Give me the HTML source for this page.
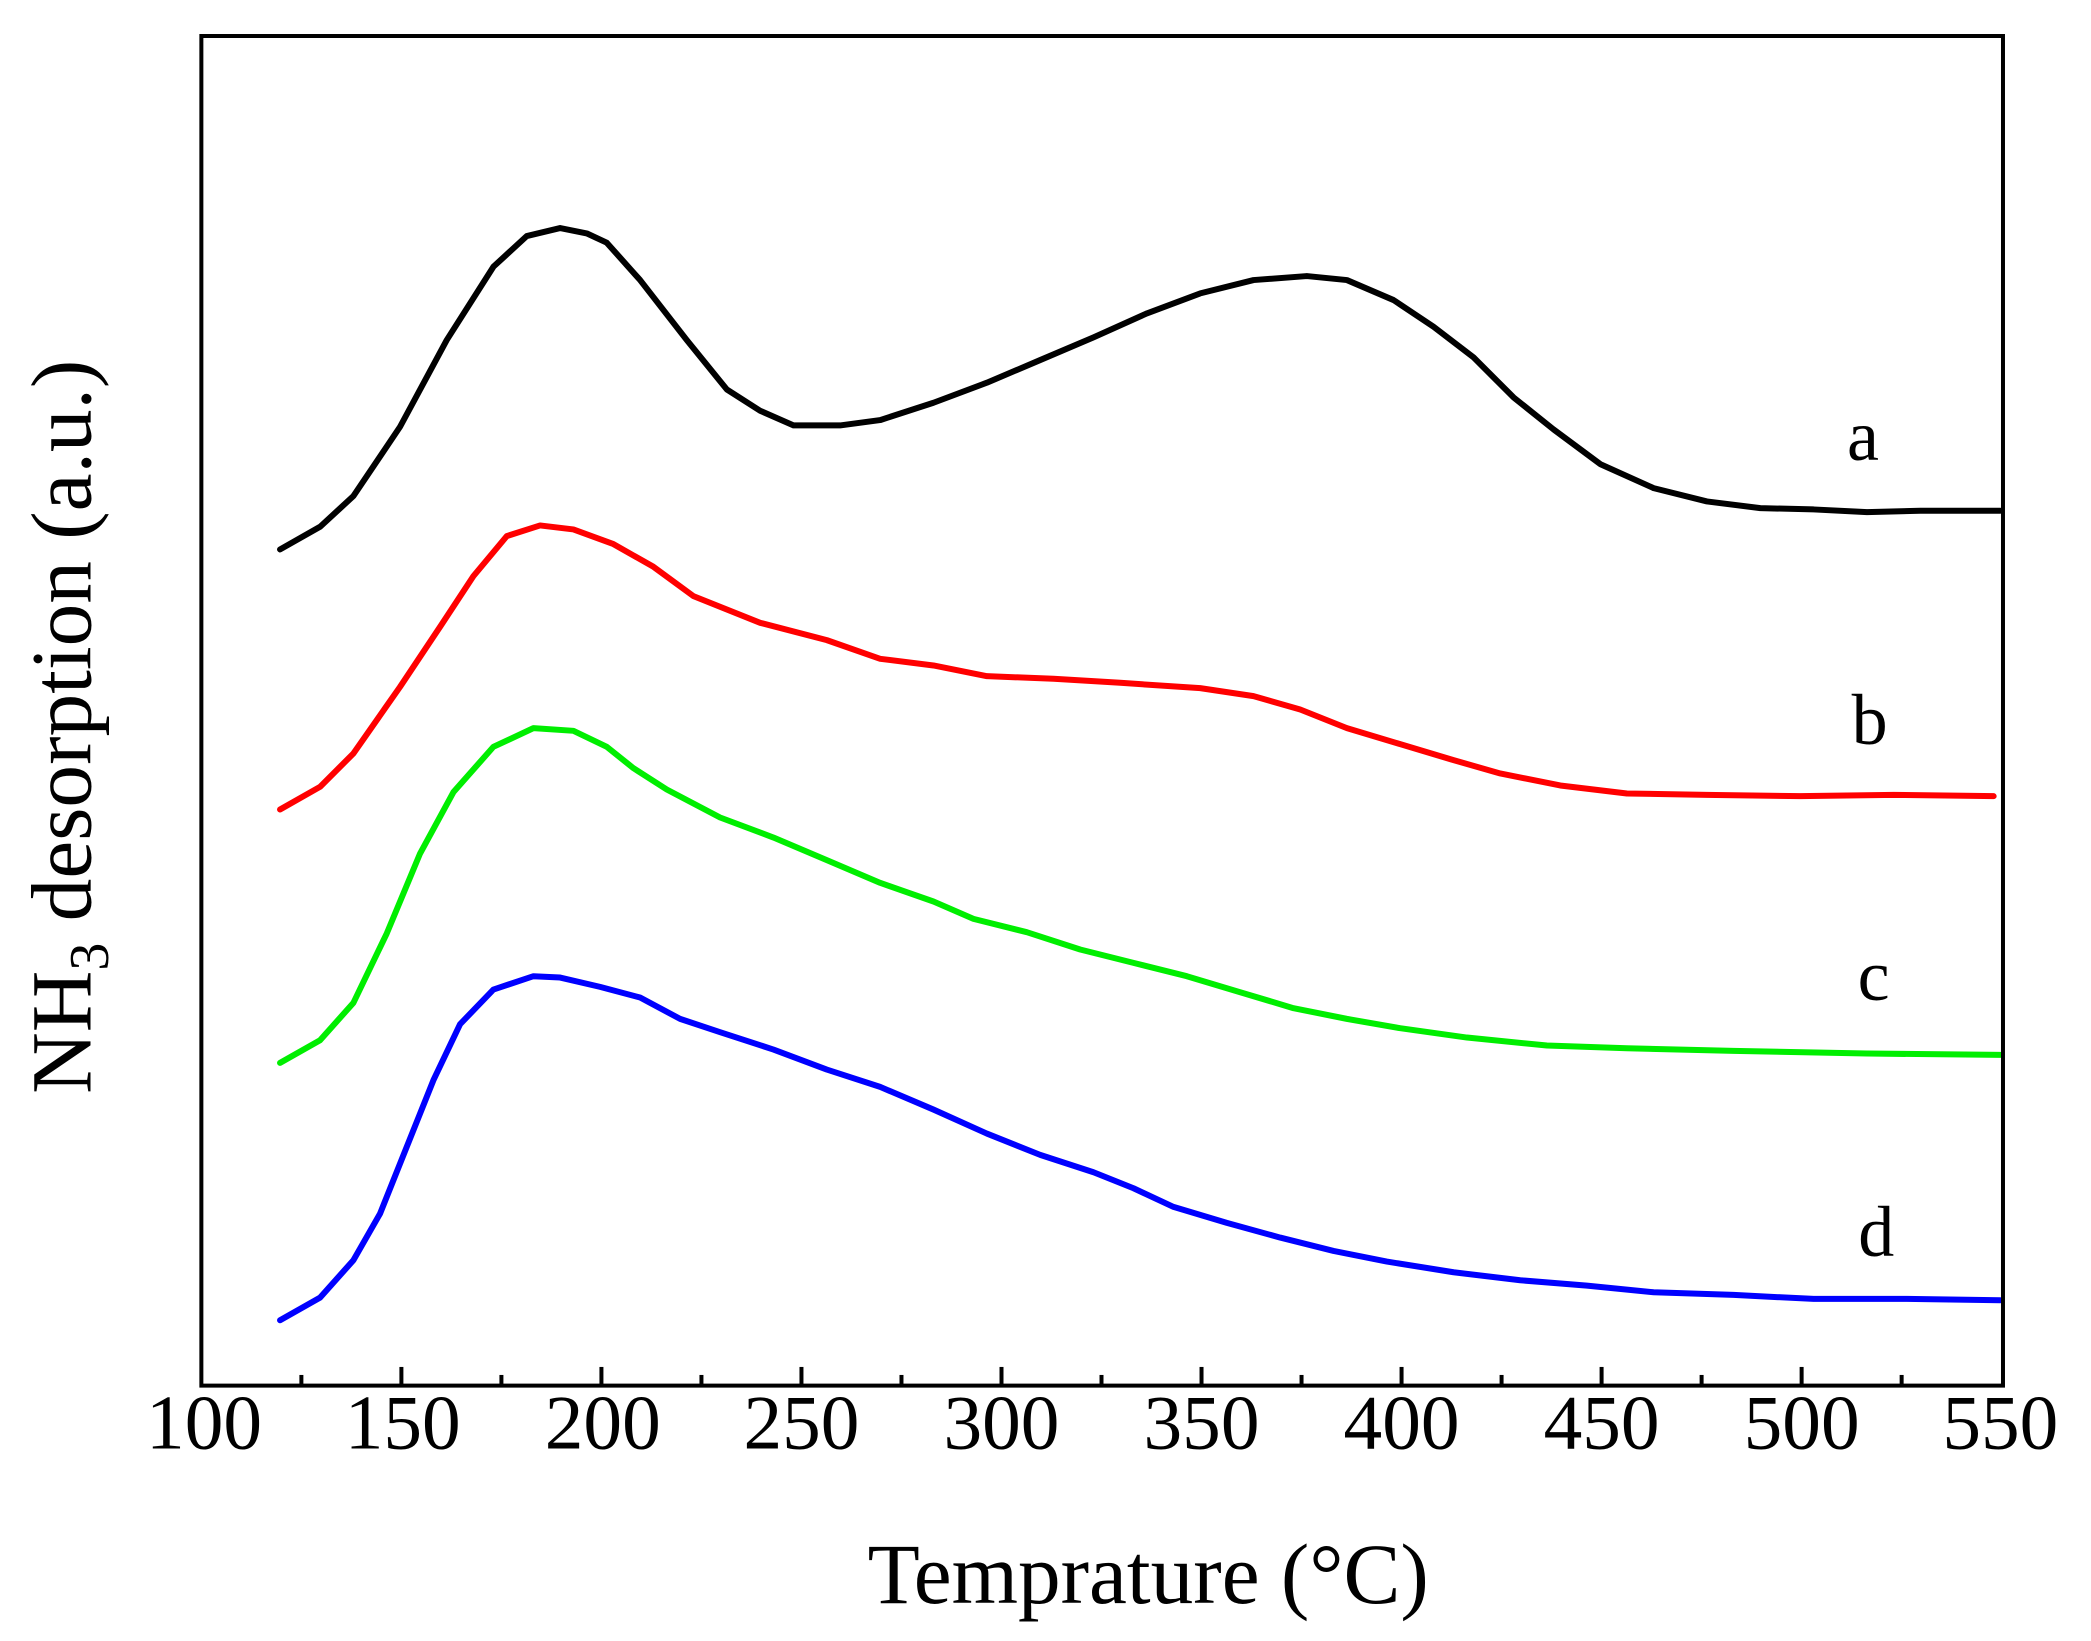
<!DOCTYPE html>
<html><head><meta charset="utf-8"><style>html,body{margin:0;padding:0;background:#fff}svg{display:block}</style></head>
<body>
<svg width="2091" height="1641" viewBox="0 0 1568 1230.5" preserveAspectRatio="none" xmlns="http://www.w3.org/2000/svg">
<rect x="0" y="0" width="1568" height="1230.5" fill="#fff"/>
<g fill="none" stroke-width="4.5" stroke-linejoin="round" stroke-linecap="round">
<polyline stroke="#000" points="210,412 240,395 265,372 300,320 335,255 370,200 395,177 420,171 440,175 455,182 480,210 515,255 545,292 570,308 595,319 630,319 660,315 700,302 740,287 780,270 820,253 860,235 900,220 940,210 980,207 1010,210 1045,225 1075,245 1105,268 1135,298 1165,322 1200,348 1240,366 1280,376 1320,381 1360,382 1400,384 1440,383 1500,383"/>
<polyline stroke="#ff0000" points="210,607 240,590 265,565 300,515 330,470 355,432 380,402 405,394 430,397 460,408 490,425 520,447 570,467 620,480 660,494 700,499 740,507 790,509 840,512 900,516 940,522 975,532 1010,546 1050,558 1090,570 1125,580 1170,589 1220,595 1280,596 1350,597 1420,596 1495,597"/>
<polyline stroke="#00ee00" points="210,797 240,780 265,752 290,700 315,640 340,594 370,560 400,546 430,548 455,560 475,576 500,592 540,613 580,628 620,645 660,662 700,676 730,689 770,699 810,712 850,722 890,732 930,744 970,756 1010,764 1050,771 1100,778 1160,784 1220,786 1300,788 1400,790 1500,791"/>
<polyline stroke="#0000ff" points="210,990 240,973 265,945 285,910 305,860 325,810 345,768 370,742 400,732 420,733 450,740 480,748 510,764 540,774 580,787 620,802 660,815 700,832 740,850 780,866 820,879 850,891 880,905 920,917 960,928 1000,938 1040,946 1090,954 1140,960 1190,964 1240,969 1300,971 1360,974 1430,974 1500,975"/>
</g>
<rect x="151" y="27" width="1351" height="1012" fill="none" stroke="#000" stroke-width="3"/>
<g stroke="#000" stroke-width="3">
<line x1="301" y1="1039" x2="301" y2="1025"/><line x1="451" y1="1039" x2="451" y2="1025"/><line x1="601" y1="1039" x2="601" y2="1025"/><line x1="751" y1="1039" x2="751" y2="1025"/><line x1="901" y1="1039" x2="901" y2="1025"/><line x1="1051" y1="1039" x2="1051" y2="1025"/><line x1="1201" y1="1039" x2="1201" y2="1025"/><line x1="1351" y1="1039" x2="1351" y2="1025"/>
<line x1="226" y1="1039" x2="226" y2="1031"/><line x1="376" y1="1039" x2="376" y2="1031"/><line x1="526" y1="1039" x2="526" y2="1031"/><line x1="676" y1="1039" x2="676" y2="1031"/><line x1="826" y1="1039" x2="826" y2="1031"/><line x1="976" y1="1039" x2="976" y2="1031"/><line x1="1126" y1="1039" x2="1126" y2="1031"/><line x1="1276" y1="1039" x2="1276" y2="1031"/><line x1="1426" y1="1039" x2="1426" y2="1031"/>
</g>
<g font-family="Liberation Serif, serif" font-size="58" text-anchor="middle" fill="#000">
<text x="153" y="1086">100</text><text x="302" y="1086">150</text><text x="452" y="1086">200</text><text x="601" y="1086">250</text><text x="751" y="1086">300</text><text x="901" y="1086">350</text><text x="1051" y="1086">400</text><text x="1201" y="1086">450</text><text x="1351" y="1086">500</text><text x="1500" y="1086">550</text>
<text x="1397" y="345" font-size="54">a</text><text x="1402" y="558" font-size="54">b</text><text x="1405" y="750" font-size="54">c</text><text x="1407" y="942" font-size="54">d</text>
<text x="861" y="1202" font-size="64">Temprature (°C)</text>
<text transform="translate(68,545) rotate(-90)" font-size="64">NH<tspan font-size="42" dy="13">3</tspan><tspan dy="-13"> desorption (a.u.)</tspan></text>
</g>
</svg>
</body></html>
